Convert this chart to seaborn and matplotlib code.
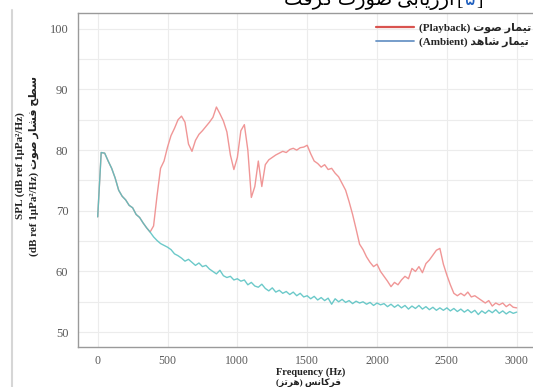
import matplotlib
matplotlib.use("Agg")
import matplotlib.pyplot as plt
from matplotlib.lines import Line2D
import seaborn as sns
import pandas as pd

# ---------------- data ----------------
freq_hz = list(range(0, 3001, 25))

ambient_db = [
    69.0, 79.6, 79.5, 78.2, 77.0, 75.4, 73.4, 72.4,
    71.8, 70.9, 70.5, 69.4, 68.9, 68.0, 67.2, 66.5,
    65.7, 65.1, 64.6, 64.3, 64.0, 63.6, 62.9, 62.6,
    62.2, 61.7, 62.0, 61.5, 61.0, 61.4, 60.8, 61.0,
    60.4, 60.0, 59.6, 60.2, 59.3, 59.0, 59.2, 58.6,
    58.8, 58.4, 58.6, 57.8, 58.2, 57.6, 57.4, 57.9,
    57.2, 56.8, 57.3, 56.6, 56.9, 56.4, 56.7, 56.2,
    56.6, 56.0, 56.4, 55.8, 56.0, 55.5, 55.9, 55.3,
    55.7, 55.2, 55.6, 54.6, 55.5, 55.0, 55.4, 54.9,
    55.2, 54.7, 55.1, 54.8, 55.0, 54.6, 54.9, 54.4,
    54.8, 54.5, 54.7, 54.2, 54.6, 54.1, 54.5, 54.0,
    54.4, 53.8, 54.3, 53.9, 54.4, 53.8, 54.2, 53.7,
    54.1, 53.6, 54.0, 53.6, 54.0, 53.5, 53.9, 53.4,
    53.8, 53.3, 53.7, 53.2, 53.6, 52.9, 53.5, 53.1,
    53.6, 53.2, 53.7, 53.1, 53.5, 53.0, 53.4, 53.1,
    53.3,
]

playback_db = [
    69.0, 79.6, 79.5, 78.2, 77.0, 75.4, 73.4, 72.4,
    71.8, 70.9, 70.5, 69.4, 68.9, 68.0, 67.2, 66.5,
    67.5, 72.5, 77.0, 78.2, 80.5, 82.4, 83.6, 85.0,
    85.6, 84.6, 81.0, 79.8, 81.6, 82.6, 83.2, 83.9,
    84.6, 85.4, 87.1, 86.0, 84.8, 83.0, 79.2, 76.8,
    78.8, 83.2, 84.2, 80.0, 72.2, 74.0, 78.2, 74.0,
    77.6, 78.4, 78.8, 79.2, 79.5, 79.8, 79.6, 80.1,
    80.3, 80.0, 80.4, 80.5, 80.8, 79.4, 78.2, 77.8,
    77.2, 77.6, 76.8, 77.0, 76.2, 75.6, 74.5, 73.4,
    71.5, 69.4, 67.0, 64.5, 63.6, 62.4, 61.5, 60.8,
    61.2, 60.0, 59.2, 58.4, 57.5, 58.2, 57.8, 58.6,
    59.2, 58.8, 60.5, 60.0, 60.8, 59.8, 61.3, 61.9,
    62.7, 63.5, 63.8, 61.2, 59.4, 57.8, 56.4, 56.0,
    56.4, 56.0, 56.6, 55.8, 56.0, 55.6, 55.2, 54.8,
    55.2, 54.3, 54.8, 54.5, 54.8, 54.2, 54.6, 54.1,
    54.0,
]

x_ticks = [0, 500, 1000, 1500, 2000, 2500, 3000]
y_ticks = [50, 60, 70, 80, 90, 100]

# ---------------- Persian shaping (presentation forms, visual order) ----------------
FORMS = {
    '\u0627': ('\uFE8D', '\uFE8E', None, None),
    '\u0628': ('\uFE8F', '\uFE90', '\uFE91', '\uFE92'),
    '\u062A': ('\uFE95', '\uFE96', '\uFE97', '\uFE98'),
    '\u062D': ('\uFEA1', '\uFEA2', '\uFEA3', '\uFEA4'),
    '\u062F': ('\uFEA9', '\uFEAA', None, None),
    '\u0631': ('\uFEAD', '\uFEAE', None, None),
    '\u0632': ('\uFEAF', '\uFEB0', None, None),
    '\u0633': ('\uFEB1', '\uFEB2', '\uFEB3', '\uFEB4'),
    '\u0634': ('\uFEB5', '\uFEB6', '\uFEB7', '\uFEB8'),
    '\u0635': ('\uFEB9', '\uFEBA', '\uFEBB', '\uFEBC'),
    '\u0637': ('\uFEC1', '\uFEC2', '\uFEC3', '\uFEC4'),
    '\u0641': ('\uFED1', '\uFED2', '\uFED3', '\uFED4'),
    '\u0645': ('\uFEE1', '\uFEE2', '\uFEE3', '\uFEE4'),
    '\u0646': ('\uFEE5', '\uFEE6', '\uFEE7', '\uFEE8'),
    '\u0647': ('\uFEE9', '\uFEEA', '\uFEEB', '\uFEEC'),
    '\u0648': ('\uFEED', '\uFEEE', None, None),
    '\u06CC': ('\uFBFC', '\uFBFD', '\uFBFE', '\uFBFF'),
    '\u06A9': ('\uFB8E', '\uFB8F', '\uFB90', '\uFB91'),
    '\u06AF': ('\uFB92', '\uFB93', '\uFB94', '\uFB95'),
}


def rtl(s):
    s = s.replace('\u064A', '\u06CC').replace('\u0643', '\u06A9')
    out = []
    for i, c in enumerate(s):
        if c not in FORMS:
            out.append(c)
            continue
        prev = s[i - 1] if i > 0 else ''
        nxt = s[i + 1] if i + 1 < len(s) else ''
        pj = prev in FORMS and FORMS[prev][2] is not None
        nj = nxt in FORMS and FORMS[c][2] is not None
        iso, fin, ini, med = FORMS[c]
        out.append(med if (pj and nj) else fin if pj else ini if nj else iso)
    vis = ''.join(reversed(out))
    return vis.translate(str.maketrans('()[]', ')(]['))


label_playback = "(Playback) " + rtl("تیمار صوت")
label_ambient = "(Ambient) " + rtl("تیمار شاهد")
ylabel_en = "SPL (dB ref 1μPa²/Hz)"
ylabel_fa = "(dB ref 1μPa²/Hz) " + rtl("سطح فشار صوت")
xlabel_en = "Frequency (Hz)"
xlabel_fa = rtl("فرکانس (هرتز)")
page_text = rtl("ارزیابی صورت گرفت")

# ---------------- style ----------------
sns.set_style("white")
plt.rcParams['font.family'] = ['Liberation Serif', 'DejaVu Sans']
FAM = ['Liberation Serif', 'DejaVu Sans']

W, H = 533, 387
fig = plt.figure(figsize=(W / 100, H / 100), dpi=100)
fig.patch.set_facecolor('white')

ax_l, ax_r, ax_t, ax_b = 78, 540, 13, 347
ax = fig.add_axes([ax_l / W, 1 - ax_b / H, (ax_r - ax_l) / W, (ax_b - ax_t) / H])

df = pd.DataFrame({
    'freq': freq_hz * 2,
    'spl': playback_db + ambient_db,
    'series': ['playback'] * len(freq_hz) + ['ambient'] * len(freq_hz),
})

sns.lineplot(data=df[df.series == 'playback'], x='freq', y='spl', ax=ax,
             color='#f09696', lw=1.0, zorder=3, legend=False)
sns.lineplot(data=df[df.series == 'ambient'], x='freq', y='spl', ax=ax,
             color='#52c0c0', lw=1.0, alpha=0.85, zorder=4, legend=False)

# axes scale: 0 Hz at x=97.7px, 3000 Hz at x=516.7px
pxhz = (516.7 - 97.7) / 3000
ax.set_xlim(-(97.7 - ax_l) / pxhz, (ax_r - 97.7) / pxhz)
ax.set_ylim(47.55, 102.6)

ax.set_xticks(x_ticks)
ax.set_yticks(y_ticks)
ax.set_yticks([55, 65, 75, 85, 95], minor=True)
ax.grid(True, which='major', color='#ececec', lw=0.8)
ax.grid(True, which='minor', axis='y', color='#ececec', lw=0.8)
ax.tick_params(which='minor', length=0)
ax.tick_params(which='major', length=4, width=0.8, color='#999999',
               labelsize=9, labelcolor='#5a5a5a', pad=3)
ax.tick_params(axis='x', which='major', pad=2, labelsize=8.5)
for lab in ax.get_xticklabels() + ax.get_yticklabels():
    lab.set_family(FAM)
for sp in ax.spines.values():
    sp.set_color('#9a9a9a')
    sp.set_linewidth(1.0)
ax.set_xlabel('')
ax.set_ylabel('')

# legend
handles = [Line2D([], [], color='#d9534f', lw=1.6),
           Line2D([], [], color='#6b95c6', lw=1.3)]
ax.legend(handles, [label_playback, label_ambient], loc='upper right',
          bbox_to_anchor=(531 / W, 1 - 23 / H), bbox_transform=fig.transFigure,
          frameon=False, borderpad=0, borderaxespad=0, handlelength=3.4,
          handletextpad=0.45, labelspacing=0.35,
          prop={'family': FAM, 'size': 8, 'weight': 'bold'})

# axis labels
fig.text(27 / W, 1 - 166 / H, ylabel_en + "\n" + ylabel_fa, rotation=90,
         ha='center', va='center', multialignment='center', linespacing=1.45,
         family=FAM, fontsize=8, fontweight='bold', color='#222222')
fig.text(311 / W, 1 - 372 / H, xlabel_en, ha='center', va='center',
         family=FAM, fontsize=7.5, fontweight='bold', color='#222222')
fig.text(308 / W, 1 - 382.3 / H, xlabel_fa, ha='center', va='center',
         family=FAM, fontsize=6.5, fontweight='bold', color='#222222')

# page context: text cut at top and page border line
fig.text(455 / W, 1 - 5 / H, page_text, ha='right', va='baseline',
         family=FAM, fontsize=14, color='black')
fig.text(457 / W, 1 - 5 / H, "[", ha='left', va='baseline',
         family=FAM, fontsize=14, color='black')
fig.text(465 / W, 1 - 5 / H, "\u06F5", ha='left', va='baseline',
         family=FAM, fontsize=14, color='#1f5fbf')
fig.text(476 / W, 1 - 5 / H, "]", ha='left', va='baseline',
         family=FAM, fontsize=14, color='black')
fig.add_artist(Line2D([12 / W, 12 / W], [0, 1 - 10 / H], transform=fig.transFigure,
                      color='#d6d6d6', lw=1.5))

fig.savefig('out.png', dpi=100)
